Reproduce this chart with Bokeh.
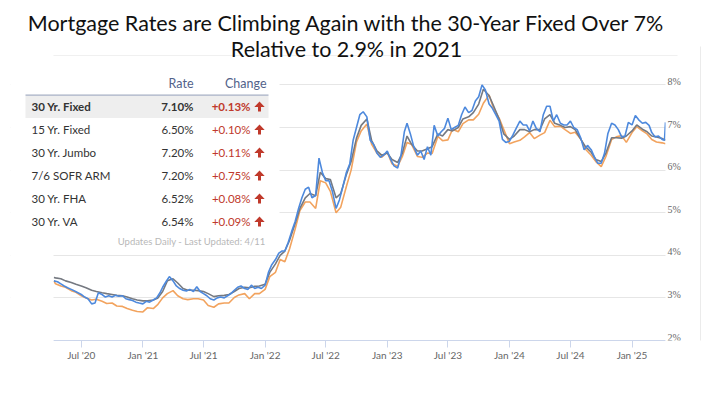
from datetime import datetime, timedelta
from bokeh.plotting import figure
from bokeh.models import (Range1d, FixedTicker, DatetimeTickFormatter, Grid, LabelSet,
                          MonthsTicker, Label, BoxAnnotation, PolyAnnotation, ColumnDataSource)
from bokeh.embed import file_html
from bokeh.resources import INLINE

# ---------------- data ----------------
def month_grid(days, first, last):
    """list of dates on given days of month from first (y,m) to last (y,m) inclusive"""
    out = []
    y, m = first
    while (y, m) <= last:
        for d in days:
            out.append(datetime(y, m, d))
        m += 1
        if m == 13:
            y, m = y + 1, 1
    return out

# daily-type series (blue), sampled 3x a month
blue_dates = ([datetime(2020, 4, 10), datetime(2020, 4, 21)]
              + month_grid([1, 11, 21], (2020, 5), (2025, 3))
              + [datetime(2025, 4, 1), datetime(2025, 4, 8), datetime(2025, 4, 11)])
blue_2020 = [3.40, 3.38,
             3.33, 3.28, 3.24, 3.20, 3.16, 3.12, 3.08, 3.02, 2.98, 2.86, 2.88, 3.12,
             3.08, 3.02, 3.05, 3.02, 3.06, 3.04, 3.05, 2.98, 2.96, 2.94, 2.90, 2.88]
blue_2021 = [2.86, 2.92, 2.90, 2.95, 3.00, 3.12, 3.25, 3.38, 3.50, 3.40, 3.28, 3.22,
             3.18, 3.16, 3.20, 3.15, 3.26, 3.15, 3.10, 3.05, 2.98, 2.95, 3.00, 3.02,
             3.00, 3.05, 3.10, 3.18, 3.25, 3.28, 3.22, 3.20, 3.30, 3.22, 3.25, 3.22]
blue_2022 = [3.30, 3.60, 3.78, 3.90, 4.05, 4.10, 4.10, 4.30, 4.55, 4.80, 5.10, 5.35,
             5.55, 5.60, 5.35, 5.40, 6.28, 5.95, 5.75, 5.75, 5.50, 5.10, 5.30, 5.60,
             5.95, 6.15, 6.70, 7.00, 7.30, 7.37, 7.25, 6.70, 6.60, 6.40, 6.30, 6.35]
blue_2023 = [6.45, 6.25, 6.10, 6.05, 6.35, 6.90, 7.10, 6.85, 6.55, 6.35, 6.45, 6.25,
             6.55, 6.35, 7.05, 6.80, 6.90, 6.98, 7.22, 6.95, 7.00, 7.05, 7.30, 7.48,
             7.35, 7.40, 7.62, 7.72, 8.00, 7.88, 7.55, 7.45, 7.30, 7.15, 6.72, 6.65]
blue_2024 = [6.68, 6.82, 6.98, 7.15, 7.06, 7.06, 6.92, 7.15, 6.98, 6.90, 7.30, 7.50,
             7.50, 7.15, 7.30, 7.10, 7.06, 7.06, 7.15, 7.00, 6.95, 6.75, 6.48, 6.58,
             6.48, 6.30, 6.16, 6.16, 6.40, 6.86, 7.10, 7.06, 6.95, 6.78, 6.80, 7.12]
blue_2025 = [7.06, 7.28, 7.18, 7.10, 7.12, 7.05, 6.88, 6.78, 6.80, 6.72, 6.70, 7.12]
blue_vals = blue_2020 + blue_2021 + blue_2022 + blue_2023 + blue_2024 + blue_2025

# weekly-type series (gray and orange), sampled twice a month
wk_dates = ([datetime(2020, 4, 10), datetime(2020, 4, 15)]
            + month_grid([1, 15], (2020, 5), (2025, 3))
            + [datetime(2025, 4, 1), datetime(2025, 4, 11)])
gray_2020 = [3.48, 3.47, 3.45, 3.40, 3.36, 3.32, 3.28, 3.24, 3.18, 3.15, 3.12, 3.10,
             3.08, 3.06, 3.05, 3.02, 2.98, 2.95]
gray_2021 = [2.93, 2.93, 2.95, 3.00, 3.15, 3.40, 3.45, 3.35, 3.22, 3.18, 3.18, 3.17,
             3.15, 3.10, 3.03, 3.05, 3.06, 3.08, 3.15, 3.22, 3.25, 3.24, 3.27, 3.28]
gray_2022 = [3.32, 3.60, 3.80, 4.00, 4.10, 4.35, 4.75, 5.10, 5.35, 5.45, 5.40, 5.95,
             5.80, 5.78, 5.35, 5.45, 5.90, 6.20, 6.75, 7.05, 7.20, 6.70, 6.45, 6.35]
gray_2023 = [6.40, 6.25, 6.18, 6.40, 6.80, 6.60, 6.45, 6.45, 6.50, 6.55, 6.85, 6.80,
             6.95, 6.92, 7.00, 7.20, 7.25, 7.35, 7.55, 7.90, 7.75, 7.50, 7.20, 6.85]
gray_2024 = [6.72, 6.80, 6.95, 6.95, 6.90, 6.95, 6.95, 7.20, 7.30, 7.10, 7.05, 7.00,
             7.02, 6.95, 6.72, 6.55, 6.42, 6.25, 6.20, 6.40, 6.76, 6.76, 6.75, 6.80]
gray_2025 = [6.92, 7.06, 6.96, 6.90, 6.80, 6.78, 6.74, 6.70]
gray_vals = gray_2020 + gray_2021 + gray_2022 + gray_2023 + gray_2024 + gray_2025

orange_2020 = [3.40, 3.33, 3.28, 3.25, 3.17, 3.13, 3.05, 3.00, 2.95, 2.97, 2.92, 2.87,
               2.88, 2.81, 2.80, 2.75, 2.71, 2.68]
orange_2021 = [2.67, 2.77, 2.75, 2.85, 3.00, 3.10, 3.17, 3.05, 2.98, 2.96, 2.98, 2.98,
               2.95, 2.82, 2.78, 2.86, 2.88, 2.88, 3.01, 3.07, 3.10, 2.98, 3.10, 3.10]
orange_2022 = [3.20, 3.50, 3.60, 3.90, 3.85, 4.15, 4.62, 5.05, 5.25, 5.25, 5.10, 5.75,
               5.70, 5.50, 5.00, 5.13, 5.62, 6.00, 6.66, 6.92, 7.08, 6.61, 6.40, 6.30]
orange_2023 = [6.42, 6.15, 6.09, 6.32, 6.65, 6.60, 6.32, 6.30, 6.40, 6.39, 6.79, 6.69,
               6.71, 6.96, 6.90, 7.09, 7.18, 7.18, 7.31, 7.57, 7.76, 7.44, 7.22, 6.95]
orange_2024 = [6.62, 6.66, 6.70, 6.78, 6.88, 6.74, 6.82, 6.88, 7.17, 7.02, 7.03, 6.95,
               6.86, 6.89, 6.73, 6.49, 6.35, 6.20, 6.08, 6.32, 6.72, 6.78, 6.81, 6.65]
orange_2025 = [6.88, 7.02, 6.92, 6.85, 6.72, 6.66, 6.64, 6.62]
orange_vals = orange_2020 + orange_2021 + orange_2022 + orange_2023 + orange_2024 + orange_2025

y_ticks = [2, 3, 4, 5, 6, 7, 8]
y_tick_labels = ["2%", "3%", "4%", "5%", "6%", "7%", "8%"]

table_names = ["30 Yr. Fixed", "15 Yr. Fixed", "30 Yr. Jumbo", "7/6 SOFR ARM", "30 Yr. FHA", "30 Yr. VA"]
table_rates = ["7.10%", "6.50%", "7.20%", "7.20%", "6.52%", "6.54%"]
table_changes = ["+0.13%", "+0.10%", "+0.11%", "+0.75%", "+0.08%", "+0.09%"]

title_lines = ["Mortgage Rates are Climbing Again with the 30-Year Fixed Over 7%",
               "Relative to 2.9% in 2021"]
footer_text = "Updates Daily - Last Updated: 4/11"

# ---------------- layout geometry (page px) ----------------
W, H = 715, 382
FX0, FX1, FY1 = 10, W, 340            # frame left, right, bottom
PLOT_X0, PLOT_X1 = 53, 665            # where the chart's own plotting area starts / ends
DATA_START, DATA_END = datetime(2020, 4, 9), datetime(2025, 4, 11)
px_per_day = (PLOT_X1 - PLOT_X0) / (DATA_END - DATA_START).days
px_per_pct = 42.6
x_start = DATA_START - timedelta(days=(PLOT_X0 - FX0) / px_per_day)
x_end = DATA_END + timedelta(days=(FX1 - PLOT_X1) / px_per_day)

FONT = "Lato"
p = figure(width=W, height=H, x_axis_type="datetime", y_axis_location=None,
           x_range=Range1d(x_start, x_end),
           y_range=Range1d(2, 2 + FY1 / px_per_pct),
           output_backend="svg", toolbar_location=None,
           min_border_left=FX0, min_border_right=0, min_border_top=0,
           min_border_bottom=H - FY1)
p.outline_line_color = None
p.background_fill_color = "white"
p.border_fill_color = "white"

for g in p.xgrid + p.ygrid:
    g.visible = False
p.add_layout(Grid(dimension=1, ticker=FixedTicker(ticks=y_ticks),
                  grid_line_color="#e6e6e6", grid_line_width=1), "center")

xax = p.xaxis[0]
xax.bounds = (DATA_START, DATA_END)
xax.ticker = MonthsTicker(months=[0, 6])
xax.formatter = DatetimeTickFormatter(months="%b '%y", years="%b '%y", days="%b '%y")
xax.axis_line_color = "#ccd6eb"
xax.major_tick_line_color = "#ccd6eb"
xax.minor_tick_line_color = None
xax.major_tick_out = 7
xax.major_tick_in = 0
xax.major_label_standoff = 1
xax.major_label_text_font = FONT
xax.major_label_text_font_size = "10px"
xax.major_label_text_color = "#666666"

src_b = ColumnDataSource(dict(x=blue_dates, y=blue_vals))
src_w = ColumnDataSource(dict(x=wk_dates, g=gray_vals, o=orange_vals))
p.line("x", "o", source=src_w, line_color="#f2a35e", line_width=1.6)
p.line("x", "g", source=src_w, line_color="#757981", line_width=1.6)
p.line("x", "y", source=src_b, line_color="#4d89dd", line_width=1.6)

# ---------------- overlay (screen positions, page px -> frame-relative) ----------------
def sx(X):
    return X - FX0
def sy(Y):
    return FY1 - Y

def box(x0, x1, y0, y1, color):
    p.add_layout(BoxAnnotation(left=sx(x0), right=sx(x1), top=sy(y0), bottom=sy(y1),
                               left_units="screen", right_units="screen",
                               top_units="screen", bottom_units="screen",
                               fill_color=color, fill_alpha=1.0, line_color=None,
                               level="overlay"))

def label(X, Y, text, align="left", size="11.5px", color="#333333", style="normal",
          font=FONT):
    p.add_layout(Label(x=sx(X), y=sy(Y), x_units="screen", y_units="screen", text=text,
                       text_align=align, text_baseline="middle", text_font=font,
                       text_font_size=size, text_color=color, text_font_style=style,
                       level="overlay"))

def up_arrow(cx, cy, color):
    pts = [(cx, cy - 5), (cx + 5.2, cy + 0.6), (cx + 1.5, cy + 0.6), (cx + 1.5, cy + 5),
           (cx - 1.5, cy + 5), (cx - 1.5, cy + 0.6), (cx - 5.2, cy + 0.6)]
    p.add_layout(PolyAnnotation(xs=[sx(a) for a, b in pts], ys=[sy(b) for a, b in pts],
                                xs_units="screen", ys_units="screen",
                                fill_color=color, fill_alpha=1.0, line_color=None,
                                level="overlay"))

# margins left/right of the chart's plotting area (hide grid there)
box(FX0, PLOT_X0, 0, FY1 + 1, "#ffffff")
box(PLOT_X1, FX1, 0, FY1 + 1, "#ffffff")
# faint rules of the source widget
box(PLOT_X0, 677, 54.5, 55.5, "#f0f0f0")
box(699.5, 700.5, 46, FY1 + 1, "#ebebeb")

# y tick labels (right side, sitting just above their grid line)
ylab_src = ColumnDataSource(dict(y=y_ticks, t=y_tick_labels, x=[sx(PLOT_X1 + 2)] * len(y_ticks)))
p.add_layout(LabelSet(x="x", y="y", text="t", source=ylab_src, x_units="screen", y_units="data",
                      y_offset=3.5, text_align="left", text_baseline="middle",
                      text_font=FONT, text_font_size="10px", text_color="#666666",
                      level="overlay"))

# table panel
box(18, 279, 68, 249, "#ffffff")
box(25, 268, 95.5, 117.5, "#eeeeee")
box(25, 268, 94, 95.2, "#a3adc2")
label(193, 83, "Rate", "right", "12.5px", "#52628a")
label(266, 83, "Change", "right", "12.5px", "#52628a")
row_y = [106, 129, 152, 175, 198, 221]
for i, yy in enumerate(row_y):
    st = "bold" if i == 0 else "normal"
    label(31, yy, table_names[i], "left", "11.5px", "#333333", st)
    label(193, yy, table_rates[i], "right", "11.5px", "#333333", st)
    label(250, yy, table_changes[i], "right", "11.5px", "#c0392b", st)
    up_arrow(259, yy, "#c0392b")
label(265, 241, footer_text, "right", "9.5px", "#b8b8b8")

# title
label(346, 22, title_lines[0], "center", "21.5px", "#111111")
label(346, 48, title_lines[1], "center", "21.5px", "#111111")

open("out.html", "w").write(file_html(p, INLINE))
